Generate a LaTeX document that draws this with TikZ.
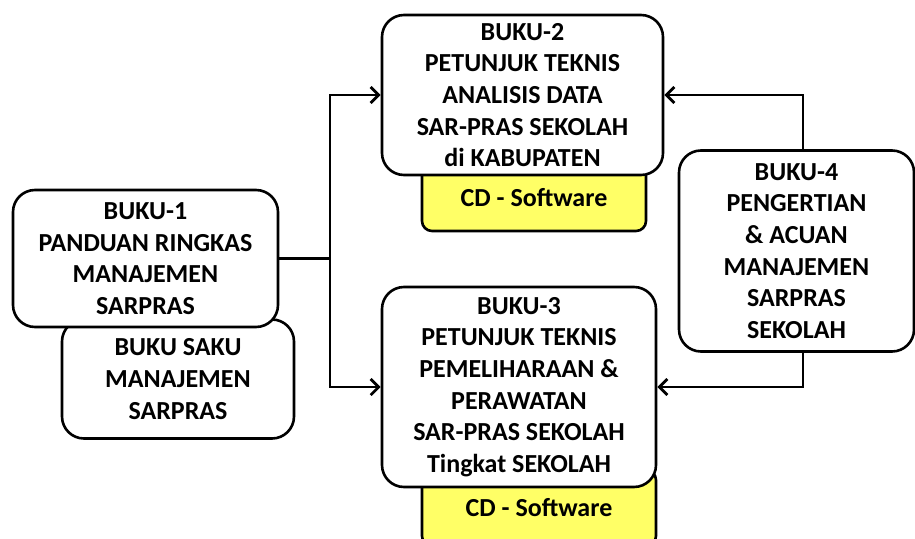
\documentclass[tikz,border=0pt]{standalone}
\usepackage{fontspec}
\setmainfont{Carlito}
\usepackage{xcolor}
\usetikzlibrary{arrows.meta,positioning}
\definecolor{cdyellow}{RGB}{255,255,102}

\begin{document}
\begin{tikzpicture}[x=1pt, y=-1pt, line width=2.6pt,
  font=\fontsize{26}{31.7}\selectfont\bfseries,
  book/.style={draw, fill=white, rounded corners=22pt, align=center, inner sep=0pt},
  cdbox/.style={draw, fill=cdyellow, rounded corners=10pt, align=center, inner sep=0pt},
  arr/.style={-{Straight Barb[length=8pt, width=16pt]}, line width=2.8pt}]
\useasboundingbox (0,0) rectangle (915,538);

% ---------- left column ----------
\node[book, minimum width=232pt, minimum height=119pt] (saku) at (178,379)
  {BUKU SAKU\\MANAJEMEN\\SARPRAS};
\node[book, minimum width=265pt, minimum height=137pt] (b1) at (145.5,258.5)
  {BUKU-1\\PANDUAN RINGKAS\\MANAJEMEN\\SARPRAS};

% ---------- middle column ----------
\node[cdbox, minimum width=224pt, minimum height=66pt] (cd2) at (534,198) {CD - Software};
\node[book, minimum width=281pt, minimum height=160pt] (b2) at (522.5,95)
  {BUKU-2\\PETUNJUK TEKNIS\\ANALISIS DATA\\SAR-PRAS SEKOLAH\\di KABUPATEN};
\node[cdbox, minimum width=234pt, minimum height=76pt] (cd3) at (539,508) {CD - Software};
\node[book, minimum width=274pt, minimum height=200pt] (b3) at (519,387)
  {BUKU-3\\PETUNJUK TEKNIS\\PEMELIHARAAN \&\\PERAWATAN\\SAR-PRAS SEKOLAH\\Tingkat SEKOLAH};

% ---------- right column ----------
\node[book, minimum width=235pt, minimum height=201pt] (b4) at (796.5,251)
  {BUKU-4\\PENGERTIAN\\\& ACUAN\\MANAJEMEN\\SARPRAS\\SEKOLAH};

% ---------- connectors ----------
\coordinate (fork) at (330,258.5);
\draw[line width=2.8pt] (b1.east) -- (fork);
\draw[arr] (fork) |- (b2.west);
\draw[arr] (fork) |- (b3.west);
\draw[arr] ([xshift=6.5pt]b4.north) |- (b2.east);
\draw[arr] ([xshift=6.5pt]b4.south) |- (b3.east);
\end{tikzpicture}
\end{document}
